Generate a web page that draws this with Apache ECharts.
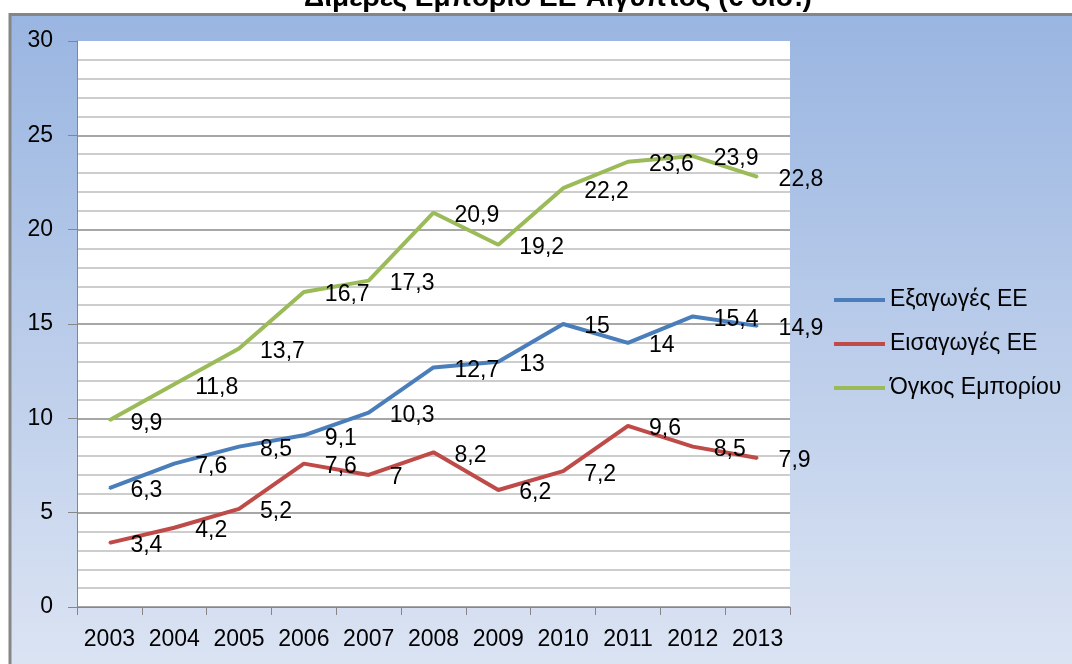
<!DOCTYPE html>
<html><head><meta charset="utf-8">
<script src="https://cdn.jsdelivr.net/npm/echarts@6/dist/echarts.min.js"></script>
<style>html,body{margin:0;padding:0;background:#fff}#c{width:1072px;height:664px}</style>
</head><body><div id="c"></div>
<script>
const titleText = 'Διμερές Εμπόριο ΕΕ-Αίγυπτος (€ δισ.)';
const years = ['2003','2004','2005','2006','2007','2008','2009','2010','2011','2012','2013'];
const seriesNames = ['Εξαγωγές ΕΕ','Εισαγωγές ΕΕ','Όγκος Εμπορίου'];
const exportsEU = [6.3, 7.6, 8.5, 9.1, 10.3, 12.7, 13, 15, 14, 15.4, 14.9];
const importsEU = [3.4, 4.2, 5.2, 7.6, 7, 8.2, 6.2, 7.2, 9.6, 8.5, 7.9];
const tradeVolume = [9.9, 11.8, 13.7, 16.7, 17.3, 20.9, 19.2, 22.2, 23.6, 23.9, 22.8];
const colors = ['#4A7EBB', '#BE4B48', '#9BBB59'];
const FONT = 'Liberation Sans';
const FS = 23;

const chart = echarts.init(document.getElementById('c'));
function mk(name, data, color) {
  return {
    name, type: 'line', data,
    symbol: 'circle', symbolSize: 2, showSymbol: true,
    itemStyle: { color },
    lineStyle: { color, width: 4 },
    label: {
      show: true, position: 'right', distance: 20, offset: [0, 3],
      color: '#000', fontFamily: FONT, fontSize: FS,
      formatter: p => String(p.value).replace('.', ',')
    },
    emphasis: { disabled: true },
    animation: false
  };
}
chart.setOption({
  backgroundColor: '#fff',
  animation: false,
  title: {
    text: titleText, left: 553, textAlign: 'center', top: -21,
    textStyle: { fontFamily: FONT, fontWeight: 'bold', fontSize: 28, color: '#000' }
  },
  graphic: [{
    type: 'rect', z: -10, silent: true,
    shape: { x: 10, y: 14.5, width: 1100, height: 700 },
    style: {
      fill: new echarts.graphic.LinearGradient(0, 0, 0, 1, [
        { offset: 0, color: '#99B5E1' }, { offset: 1, color: '#E0E7F4' }
      ]),
      stroke: '#868686', lineWidth: 3
    }
  }],
  grid: { left: 77, top: 41, right: 282, bottom: 57, show: true, backgroundColor: '#fff', borderWidth: 0, containLabel: false },
  legend: {
    orient: 'vertical', left: 829, top: 283, icon: 'rect', itemWidth: 51, itemHeight: 4,
    itemGap: 20, data: seriesNames,
    textStyle: { fontFamily: FONT, fontSize: FS, color: '#000', lineHeight: 24 }
  },
  xAxis: {
    type: 'category', data: years, boundaryGap: true,
    axisLine: { lineStyle: { color: '#868686', width: 1 } },
    axisTick: { show: true, length: 8, lineStyle: { color: '#868686' } },
    axisLabel: { fontFamily: FONT, fontSize: FS, color: '#000', margin: 21, interval: 0 },
    splitLine: { show: false }
  },
  yAxis: {
    type: 'value', min: 0, max: 30, interval: 5,
    axisLine: { show: true, lineStyle: { color: '#868686' } },
    axisTick: { show: true, length: 9, lineStyle: { color: '#868686' } },
    axisLabel: { fontFamily: FONT, fontSize: FS, color: '#000', margin: 24 },
    splitLine: { show: true, lineStyle: { color: ['#8A8A8A','#8A8A8A','#8A8A8A','#8A8A8A','#8A8A8A','#8A8A8A','rgba(0,0,0,0)'], width: 1.5 } },
    minorTick: { show: false, splitNumber: 5 },
    minorSplitLine: { show: true, lineStyle: { color: '#BDBDBD', width: 1.5 } }
  },
  series: [mk(seriesNames[0], exportsEU, colors[0]), mk(seriesNames[1], importsEU, colors[1]), mk(seriesNames[2], tradeVolume, colors[2])]
});
</script></body></html>
